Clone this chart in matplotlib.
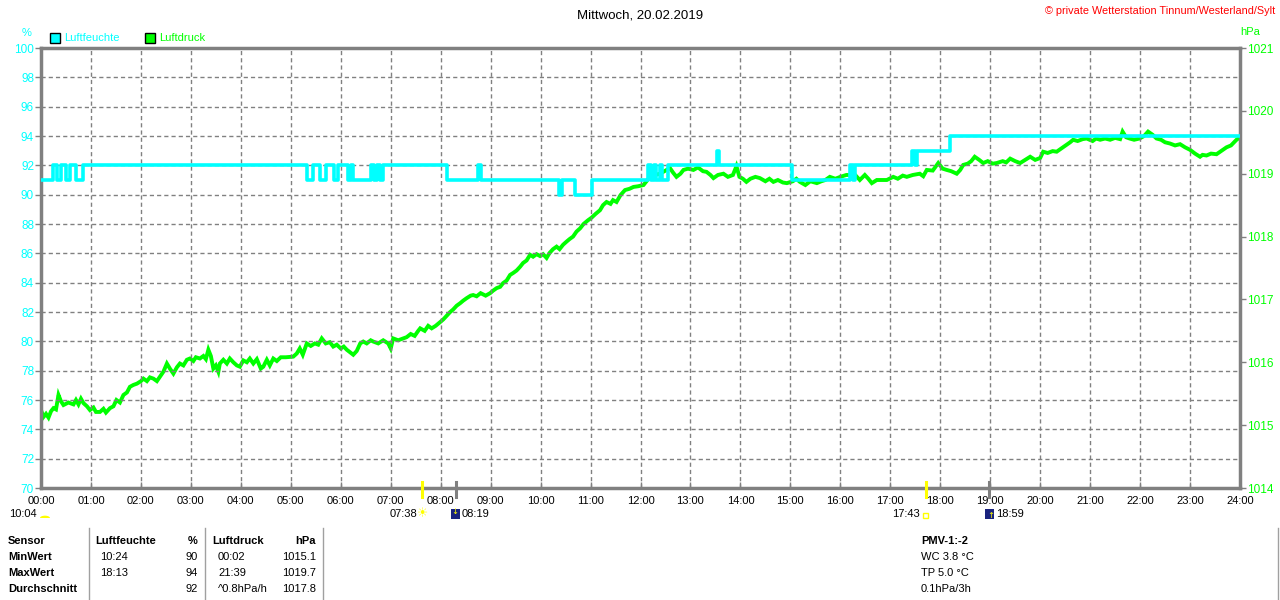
import matplotlib
matplotlib.use("Agg")
import matplotlib.pyplot as plt
from matplotlib.patches import Rectangle, Circle, Wedge
import matplotlib.transforms as mtransforms

# ---------------- data ----------------
hum_t = [0.00, 0.25, 0.33, 0.40, 0.50, 0.58, 0.70, 0.85,
         5.32, 5.45, 5.58, 5.71, 5.87, 5.94, 6.14, 6.20, 6.24, 6.61, 6.66, 6.72, 6.78, 6.85,
         8.13, 8.74, 8.80, 10.36, 10.42, 10.69, 11.02,
         12.16, 12.22, 12.28, 12.32, 12.40, 12.44, 12.55, 13.54, 13.58,
         15.03, 16.19, 16.25, 16.30, 17.43, 17.50, 17.54, 18.19, 24.00]
hum_v = [91, 92, 91, 92, 91, 92, 91, 92,
         91, 92, 91, 92, 91, 92, 91, 92, 91, 92, 91, 92, 91, 92,
         91, 92, 91, 90, 91, 90, 91,
         92, 91, 92, 91, 92, 91, 92, 93, 92,
         91, 92, 91, 92, 93, 92, 93, 94, 94]

pres_t = [0.00, 0.05, 0.10, 0.15, 0.20, 0.25, 0.30, 0.35, 0.40, 0.45, 0.55, 0.65, 0.70, 0.75, 0.80, 0.85,
          0.92, 0.98, 1.05, 1.10, 1.18, 1.25, 1.30, 1.38, 1.45, 1.51, 1.58, 1.65, 1.72, 1.78, 1.85, 1.92,
          2.00, 2.05, 2.12, 2.18, 2.25, 2.32, 2.38, 2.45, 2.52, 2.58, 2.65, 2.72, 2.78, 2.85, 2.92, 2.98,
          3.05, 3.10, 3.18, 3.25, 3.30, 3.35, 3.40, 3.45, 3.50, 3.55, 3.58, 3.65, 3.72, 3.78, 3.85, 3.92, 3.98,
          4.05, 4.12, 4.18, 4.25, 4.32, 4.40, 4.45, 4.52, 4.58, 4.65, 4.72, 4.80, 4.90,
          5.05, 5.12, 5.18, 5.24, 5.32, 5.40, 5.48, 5.55, 5.62, 5.70, 5.78, 5.85, 5.92,
          6.00, 6.06, 6.12, 6.20, 6.25, 6.32, 6.39, 6.45, 6.52, 6.60, 6.65, 6.75, 6.85, 6.95,
          7.00, 7.05, 7.15, 7.25, 7.32, 7.40, 7.48, 7.55, 7.59, 7.68, 7.75, 7.82, 7.90, 7.99,
          8.05, 8.12, 8.19, 8.25, 8.32, 8.39, 8.45, 8.52, 8.60, 8.65, 8.72, 8.80, 8.90, 8.99,
          9.05, 9.12, 9.19, 9.25, 9.32, 9.39, 9.45, 9.52, 9.59, 9.65, 9.72, 9.79, 9.85, 9.92, 9.99,
          10.05, 10.12, 10.18, 10.25, 10.32, 10.38, 10.45, 10.52, 10.58, 10.65, 10.72, 10.79, 10.86, 10.95,
          11.02, 11.10, 11.19, 11.25, 11.32, 11.40, 11.45, 11.52, 11.60, 11.69, 11.78, 11.86, 11.95,
          12.06, 12.12, 12.19, 12.28, 12.39, 12.48, 12.59, 12.65, 12.72, 12.80, 12.86, 12.95,
          13.06, 13.15, 13.25, 13.32, 13.40, 13.46, 13.55, 13.66, 13.75, 13.85, 13.92, 13.98,
          14.05, 14.12, 14.20, 14.30, 14.39, 14.50, 14.58, 14.66, 14.75, 14.85, 14.93,
          15.05, 15.12, 15.19, 15.30, 15.40, 15.53, 15.62, 15.70, 15.79, 15.90,
          16.00, 16.12, 16.19, 16.25, 16.32, 16.39, 16.49, 16.56, 16.63, 16.73, 16.83, 16.93,
          17.06, 17.15, 17.25, 17.33, 17.45, 17.59, 17.66, 17.73, 17.85, 17.96,
          18.05, 18.13, 18.22, 18.33, 18.40, 18.46, 18.55, 18.62, 18.69, 18.78, 18.86, 18.95,
          19.05, 19.13, 19.25, 19.32, 19.40, 19.50, 19.60, 19.70, 19.80, 19.90,
          20.00, 20.06, 20.15, 20.25, 20.33, 20.42, 20.53, 20.60, 20.66, 20.75, 20.85, 20.93,
          21.05, 21.12, 21.20, 21.30, 21.40, 21.50, 21.60, 21.65, 21.72, 21.79, 21.88, 21.99,
          22.08, 22.16, 22.25, 22.33, 22.42, 22.50, 22.60, 22.70, 22.80, 22.90,
          23.00, 23.10, 23.20, 23.25, 23.33, 23.42, 23.53, 23.62, 23.73, 23.82, 23.93, 24.00]
pres_v = [1015.24, 1015.13, 1015.18, 1015.12, 1015.22, 1015.27, 1015.25, 1015.48, 1015.38, 1015.32, 1015.36, 1015.33, 1015.40, 1015.33, 1015.42, 1015.35,
          1015.30, 1015.24, 1015.28, 1015.21, 1015.21, 1015.26, 1015.20, 1015.27, 1015.30, 1015.40, 1015.36, 1015.48, 1015.52, 1015.61, 1015.64, 1015.66,
          1015.70, 1015.74, 1015.70, 1015.76, 1015.74, 1015.70, 1015.77, 1015.85, 1015.98, 1015.90, 1015.82, 1015.92, 1015.98, 1015.95, 1016.04, 1016.06,
          1016.02, 1016.08, 1016.06, 1016.10, 1016.05, 1016.20, 1016.10, 1015.90, 1015.95, 1015.85, 1015.98, 1016.04, 1015.98, 1016.06, 1016.00, 1015.95, 1015.93,
          1016.03, 1016.00, 1016.06, 1015.98, 1016.05, 1015.90, 1015.93, 1016.04, 1015.95, 1016.06, 1016.02, 1016.08, 1016.08,
          1016.09, 1016.14, 1016.22, 1016.12, 1016.30, 1016.26, 1016.30, 1016.28, 1016.38, 1016.30, 1016.32, 1016.25, 1016.28,
          1016.22, 1016.25, 1016.20, 1016.15, 1016.12, 1016.18, 1016.30, 1016.33, 1016.30, 1016.35, 1016.33, 1016.30, 1016.35, 1016.30,
          1016.22, 1016.38, 1016.35, 1016.38, 1016.40, 1016.45, 1016.42, 1016.50, 1016.54, 1016.50, 1016.58, 1016.54, 1016.58, 1016.64,
          1016.68, 1016.74, 1016.80, 1016.84, 1016.90, 1016.94, 1016.98, 1017.02, 1017.06, 1017.07, 1017.05, 1017.10, 1017.06, 1017.10,
          1017.14, 1017.18, 1017.20, 1017.26, 1017.30, 1017.39, 1017.42, 1017.46, 1017.52, 1017.58, 1017.62, 1017.71, 1017.68, 1017.72, 1017.69,
          1017.72, 1017.66, 1017.74, 1017.80, 1017.84, 1017.80, 1017.87, 1017.92, 1017.96, 1018.00, 1018.08, 1018.13, 1018.20, 1018.26,
          1018.30, 1018.36, 1018.42, 1018.50, 1018.55, 1018.52, 1018.58, 1018.55, 1018.66, 1018.74, 1018.76, 1018.79, 1018.80,
          1018.82, 1018.88, 1018.95, 1018.98, 1019.00, 1019.04, 1019.09, 1019.02, 1018.95, 1019.00, 1019.06, 1019.08,
          1019.06, 1019.10, 1019.04, 1019.03, 1018.98, 1018.93, 1018.98, 1019.00, 1018.95, 1018.98, 1019.12, 1018.95,
          1018.92, 1018.87, 1018.92, 1018.95, 1018.93, 1018.88, 1018.92, 1018.87, 1018.90, 1018.86, 1018.85,
          1018.88, 1018.92, 1018.87, 1018.82, 1018.88, 1018.85, 1018.88, 1018.90, 1018.95, 1018.92,
          1018.95, 1018.98, 1018.98, 1019.02, 1018.96, 1018.90, 1018.98, 1018.92, 1018.85, 1018.90, 1018.90, 1018.90,
          1018.95, 1018.92, 1018.97, 1018.95, 1018.98, 1019.00, 1018.96, 1019.06, 1019.05, 1019.17,
          1019.08, 1019.06, 1019.04, 1019.00, 1019.06, 1019.14, 1019.16, 1019.20, 1019.27, 1019.22, 1019.17, 1019.20,
          1019.16, 1019.17, 1019.20, 1019.18, 1019.24, 1019.20, 1019.17, 1019.22, 1019.27, 1019.22,
          1019.25, 1019.35, 1019.33, 1019.36, 1019.35, 1019.40, 1019.46, 1019.50, 1019.54, 1019.52, 1019.55, 1019.56,
          1019.52, 1019.56, 1019.54, 1019.56, 1019.54, 1019.57, 1019.55, 1019.67, 1019.58, 1019.56, 1019.54, 1019.56,
          1019.60, 1019.67, 1019.62, 1019.56, 1019.54, 1019.50, 1019.48, 1019.45, 1019.47, 1019.42,
          1019.38, 1019.32, 1019.27, 1019.30, 1019.29, 1019.32, 1019.31, 1019.36, 1019.42, 1019.45, 1019.54, 1019.58]

hour_labels = ["%02d:00" % h for h in range(25)]
hum_ticks = list(range(70, 101, 2))
pres_ticks = list(range(1014, 1022))

title = "Mittwoch, 20.02.2019"
copyright_txt = "© private Wetterstation Tinnum/Westerland/Sylt"
series_names = ["Luftfeuchte", "Luftdruck"]
sun_events = [7 + 38 / 60, 8 + 19 / 60, 17 + 43 / 60, 18 + 59 / 60]
sun_labels = ["07:38", "08:19", "17:43", "18:59"]
day_length = "10:04"

table_rows = ["Sensor", "MinWert", "MaxWert", "Durchschnitt"]
hum_time = ["", "10:24", "18:13", ""]
hum_val = ["%", "90", "94", "92"]
pres_time = ["", "00:02", "21:39", "^0.8hPa/h"]
pres_val = ["hPa", "1015.1", "1019.7", "1017.8"]
extra_lines = ["PMV-1:-2", "WC 3.8 °C", "TP 5.0 °C", "0.1hPa/3h"]

# ---------------- style ----------------
CYAN = "#00FFFF"
GREEN = "#00FF00"
GRAY = "#808080"
YELLOW = "#FFFF00"
NAVY = "#1A237E"
FONT = "Liberation Sans"
plt.rcParams["font.family"] = [FONT, "DejaVu Sans"]
plt.rcParams["font.size"] = 8

W, H = 1280, 600
fig = plt.figure(figsize=(W / 100, H / 100), dpi=100, facecolor="white")


def fx(x):
    return x / W


def fy(y):
    return 1 - y / H


L, R, T, B = 41, 1240, 48, 488
ax = fig.add_axes([fx(L), fy(B), (R - L) / W, (B - T) / H])
ax.set_xlim(0, 24)
ax.set_ylim(70, 100)
ax.set_xticks(range(25))
ax.set_xticklabels(hour_labels, fontsize=8, color="black")
ax.set_yticks(hum_ticks)
ax.set_yticklabels([str(v) for v in hum_ticks], color=CYAN, fontsize=8.5)
ax.tick_params(axis="y", length=4, width=1, color=GRAY, pad=1)
ax.tick_params(axis="x", length=4, width=1, color=GRAY, direction="in", pad=6)
ax.grid(True, color=GRAY, linestyle=(0, (3, 2.2)), linewidth=1)
for s in ax.spines.values():
    s.set_color(GRAY)
    s.set_linewidth(2.5)

ax2 = ax.twinx()
ax2.set_ylim(1014, 1021)
ax2.set_yticks(pres_ticks)
ax2.set_yticklabels([str(v) for v in pres_ticks], color=GREEN, fontsize=8.5)
ax2.tick_params(axis="y", length=4, width=1, color=GRAY, pad=1)
for s in ax2.spines.values():
    s.set_visible(False)

ax2.plot(pres_t, pres_v, color=GREEN, linewidth=2.8, solid_joinstyle="miter", zorder=3)
ax.plot(hum_t, hum_v, color=CYAN, linewidth=2.6, drawstyle="steps-post", zorder=4)
ax.set_zorder(ax2.get_zorder() + 1)
ax.patch.set_visible(False)

# sunrise / sunset markers on the time axis
trans = mtransforms.blended_transform_factory(ax.transData, ax.transAxes)
for i, t in enumerate(sun_events):
    col = YELLOW if i in (0, 2) else GRAY
    ax.plot([t, t], [-0.02, 0.013], color=col, linewidth=2.2, transform=trans, clip_on=False, zorder=10)

# texts
fig.text(0.5, fy(15), title, ha="center", va="center", fontsize=9.5, color="black")
fig.text(fx(1275), fy(11), copyright_txt, ha="right", va="center", fontsize=7.8, color="red")
fig.text(fx(27), fy(33), "%", ha="center", va="center", color=CYAN)
fig.text(fx(1250), fy(32), "hPa", ha="center", va="center", color=GREEN)

for x0, name, col in [(50, series_names[0], CYAN), (145, series_names[1], GREEN)]:
    fig.add_artist(Rectangle((fx(x0), fy(43)), 10 / W, 10 / H, transform=fig.transFigure,
                             facecolor=col, edgecolor="black", linewidth=1))
    fig.text(fx(x0 + 14), fy(38), name, ha="left", va="center", color=col)

# sun time labels
ylab = 514
fig.text(fx(37), fy(ylab), day_length, ha="right", va="center")
fig.add_artist(Wedge((fx(45), fy(518)), 5 / W, 0, 180, transform=fig.transFigure,
                     facecolor=YELLOW, edgecolor="none"))
fig.text(fx(417), fy(ylab), sun_labels[0], ha="right", va="center")
fig.text(fx(423), fy(ylab), "☀", ha="center", va="center", color=YELLOW, fontsize=9,
         family="DejaVu Sans")
fig.add_artist(Rectangle((fx(451), fy(519)), 9 / W, 10 / H, transform=fig.transFigure,
                         facecolor=NAVY, edgecolor="none"))
fig.text(fx(455), fy(512), "↓", ha="center", va="center", color=YELLOW, fontsize=6, family="DejaVu Sans")
fig.text(fx(462), fy(ylab), sun_labels[1], ha="left", va="center")
fig.text(fx(920), fy(ylab), sun_labels[2], ha="right", va="center")
fig.add_artist(Rectangle((fx(923), fy(518)), 5 / W, 5 / H, transform=fig.transFigure,
                         facecolor="none", edgecolor=YELLOW, linewidth=1))
fig.add_artist(Rectangle((fx(985), fy(519)), 9 / W, 10 / H, transform=fig.transFigure,
                         facecolor=NAVY, edgecolor="none"))
fig.text(fx(991), fy(516), "↑", ha="center", va="center", color=YELLOW, fontsize=6, family="DejaVu Sans")
fig.text(fx(996), fy(ylab), sun_labels[3], ha="left", va="center")

# table
row_y = [541, 557, 573, 589]
for i, yy in enumerate(row_y):
    hb = "bold" if i == 0 else "normal"
    fig.text(fx(8), fy(yy), table_rows[i], ha="left", va="center", fontweight="bold")
    fig.text(fx(95 if i == 0 else 100), fy(yy), series_names[0] if i == 0 else hum_time[i],
             ha="left", va="center", fontweight=hb)
    fig.text(fx(198), fy(yy), hum_val[i], ha="right", va="center", fontweight=hb)
    fig.text(fx(212 if i == 0 else 218), fy(yy), series_names[1] if i == 0 else pres_time[i],
             ha="left", va="center", fontweight=hb)
    fig.text(fx(316), fy(yy), pres_val[i], ha="right", va="center", fontweight=hb)
    fig.text(fx(921), fy(yy), extra_lines[i], ha="left", va="center",
             fontweight="bold" if i == 0 else "normal")

for xv in (89, 205, 323, 1278):
    fig.add_artist(plt.Line2D([fx(xv), fx(xv)], [fy(528), fy(600)], transform=fig.transFigure,
                              color="#A0A0A0", linewidth=1))

fig.savefig("out.png", dpi=100, facecolor="white")
